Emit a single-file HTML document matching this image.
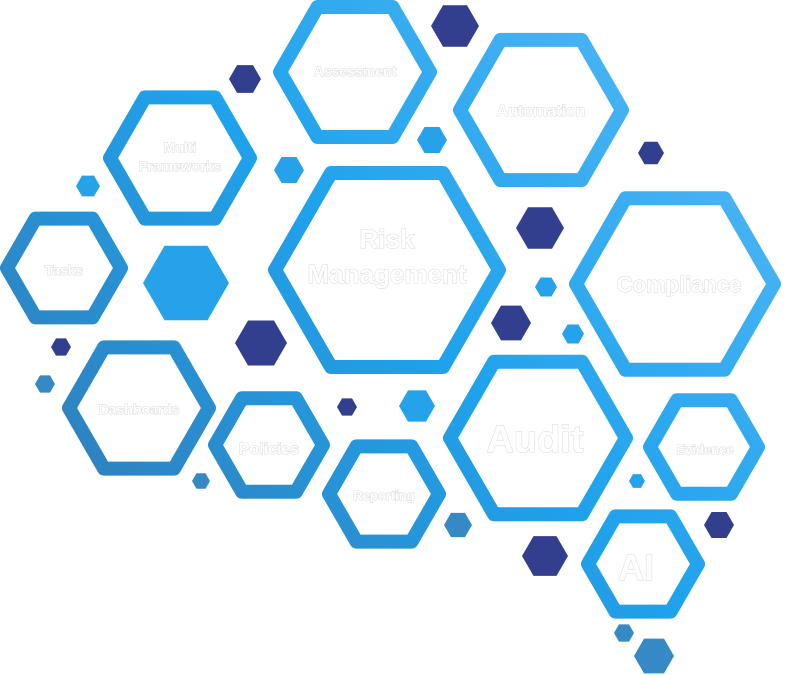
<!DOCTYPE html>
<html><head><meta charset="utf-8">
<style>
html,body{margin:0;padding:0;background:#fff;width:791px;height:675px;overflow:hidden}
svg{display:block}
text{font-family:"Liberation Sans",sans-serif;font-weight:bold;fill:#fff;stroke:#d4d8dc;stroke-width:1;paint-order:stroke;text-anchor:middle}
</style></head><body>
<svg width="791" height="675" viewBox="0 0 791 675" xmlns="http://www.w3.org/2000/svg">
<defs>
<linearGradient id="g" gradientUnits="userSpaceOnUse" x1="760" y1="0" x2="60" y2="640">
<stop offset="0" stop-color="#58baf6"/>
<stop offset="0.5" stop-color="#1fa2ec"/>
<stop offset="1" stop-color="#3576ae"/>
</linearGradient>
<polygon id="h" points="1,0 .5,.866 -.5,.866 -1,0 -.5,-.866 .5,-.866"/>
</defs>
<g fill="none" stroke="url(#g)" stroke-width="14" stroke-linejoin="round">
<polygon points="430,72 392.5,137 317.5,137 280,72 317.5,7 392.5,7"/>
<polygon points="622,110 581.5,180.1 500.5,180.1 460,110 500.5,39.9 581.5,39.9"/>
<polygon points="250,158 215,218.6 145,218.6 110,158 145,97.4 215,97.4"/>
<polygon points="121,268 92.5,317.4 35.5,317.4 7,268 35.5,218.6 92.5,218.6"/>
<polygon points="499,270 443,367 331,367 275,270 331,173 443,173"/>
<polygon points="774,284 724.5,369.7 625.5,369.7 576,284 625.5,198.3 724.5,198.3"/>
<polygon points="209,408 174,468.6 104,468.6 69,408 104,347.4 174,347.4"/>
<polygon points="323,445 296,491.8 242,491.8 215,445 242,398.2 296,398.2"/>
<polygon points="439,494 411.5,541.6 356.5,541.6 329,494 356.5,446.4 411.5,446.4"/>
<polygon points="626,438 582,514.2 494,514.2 450,438 494,361.8 582,361.8"/>
<polygon points="758,447 731,493.8 677,493.8 650,447 677,400.2 731,400.2"/>
<polygon points="698,564 670.5,611.6 615.5,611.6 588,564 615.5,516.4 670.5,516.4"/>
</g>
<g fill="#323f8f">
<use href="#h" transform="translate(455,26) scale(24)"/>
<use href="#h" transform="translate(245,79) scale(16)"/>
<use href="#h" transform="translate(651,153) scale(13)"/>
<use href="#h" transform="translate(540,228) scale(24)"/>
<use href="#h" transform="translate(261,343) scale(26)"/>
<use href="#h" transform="translate(511,323) scale(20)"/>
<use href="#h" transform="translate(61,347) scale(10)"/>
<use href="#h" transform="translate(347,407) scale(10)"/>
<use href="#h" transform="translate(719,525) scale(15)"/>
<use href="#h" transform="translate(545,556) scale(23)"/>
</g>
<g fill="#26a2ea">
<use href="#h" transform="translate(432,140) scale(15)"/>
<use href="#h" transform="translate(289,170) scale(15)"/>
<use href="#h" transform="translate(88,186) scale(12)"/>
<use href="#h" transform="translate(186,283) scale(43)"/>
<use href="#h" transform="translate(546,287) scale(11)"/>
<use href="#h" transform="translate(573,334) scale(11)"/>
<use href="#h" transform="translate(417,406) scale(18)"/>
<use href="#h" transform="translate(637,481) scale(8)"/>
</g>
<g fill="#3589c4">
<use href="#h" transform="translate(45,384) scale(10)"/>
<use href="#h" transform="translate(201,481) scale(9)"/>
<use href="#h" transform="translate(458,525) scale(14)"/>
<use href="#h" transform="translate(624,633) scale(10)"/>
<use href="#h" transform="translate(654,656) scale(20)"/>
</g>
<text x="355" y="76" font-size="14">Assessment</text>
<text x="541" y="116" font-size="16">Automation</text>
<text x="180" y="152" font-size="14">Multi</text>
<text x="180" y="171" font-size="14">Frameworks</text>
<text x="64" y="275" font-size="14">Tasks</text>
<text x="387" y="248" font-size="26">Risk</text>
<text x="387" y="283" font-size="26">Management</text>
<text x="679" y="292" font-size="22">Compliance</text>
<text x="139" y="414" font-size="14">Dashboards</text>
<text x="269" y="454" font-size="16">Policies</text>
<text x="384" y="500" font-size="13">Reporting</text>
<text x="535" y="452" font-size="38">Audit</text>
<text x="705" y="454" font-size="13">Evidence</text>
<text x="636" y="580" font-size="36" font-weight="normal">AI</text>
</svg>
</body></html>
